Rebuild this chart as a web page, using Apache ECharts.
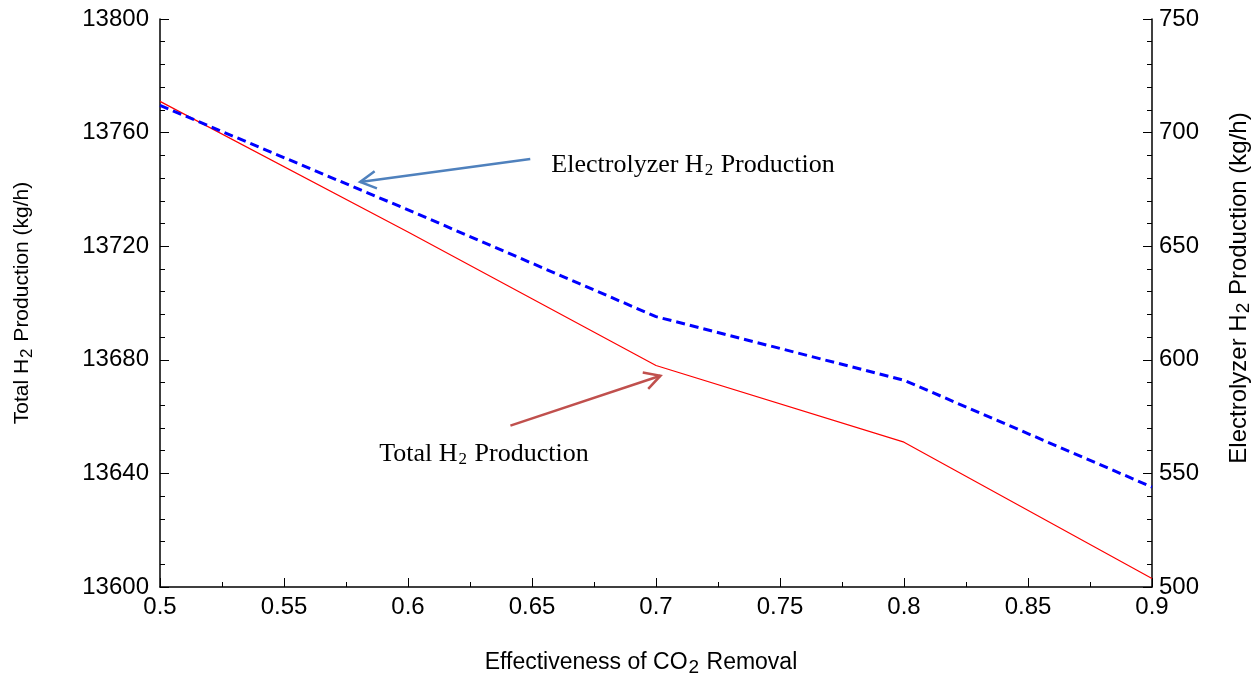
<!DOCTYPE html>
<html>
<head>
<meta charset="utf-8">
<script src="https://cdn.jsdelivr.net/npm/echarts@6/dist/echarts.min.js"></script>
<style>
  html, body { margin: 0; padding: 0; background: #fff; }
  #chart { width: 1258px; height: 681px; }
</style>
</head>
<body>
<div id="chart"></div>
<script>
// effectiveness of CO2 removal
const effectiveness = [0.5, 0.6, 0.7, 0.8, 0.9]
// total H2 production (kg/h), left axis
const totalH2 = [13771, 13725, 13678, 13651, 13603]
// electrolyzer H2 production (kg/h), right axis
const electrolyzerH2 = [712, 666, 619, 591, 544]

// annotation arrows in left-axis data units: [fromX, fromY, toX, toY, textX, textY]
const arrowBlue = [0.6493, 13750.7, 0.5807, 13742.6, 0.6578, 13747]
const arrowRed = [0.6413, 13656.8, 0.7018, 13674.4, 0.5884, 13645.4]

const tickFont = 'Liberation Sans'
const serif = 'Liberation Serif'

// rich styles for text with a subscript "2" (drop = px pushed down)
function subRich(size, subSize, family, drop) {
  const lh = size + 8
  return {
    a: { fontFamily: family, fontSize: size, color: '#000', lineHeight: lh, verticalAlign: 'top' },
    s: {
      fontFamily: family, fontSize: subSize, color: '#000', lineHeight: lh, verticalAlign: 'top',
      padding: [drop + (size - subSize) / 2, 1, 0, 1]
    }
  }
}

function toPts(arr) {
  return effectiveness.map((x, i) => [x, arr[i]])
}

const axisCommon = {
  axisLine: { show: true, lineStyle: { color: '#000', width: 1.5 } },
  axisTick: { show: true, inside: true, length: 9, lineStyle: { color: '#000', width: 1 } },
  minorTick: { show: true, length: 5, lineStyle: { color: '#000', width: 1 } },
  splitLine: { show: false },
  axisLabel: { fontFamily: tickFont, fontSize: 24, color: '#000' }
}

const chart = echarts.init(document.getElementById('chart'))

chart.setOption({
  animation: false,
  backgroundColor: '#fff',
  grid: { left: 160, right: 106, top: 19, bottom: 94, outerBoundsMode: 'none' },
  xAxis: {
    type: 'value',
    min: 0.5,
    max: 0.9,
    interval: 0.05,
    name: '{a|Effectiveness of CO}{s|2}{a| Removal}',
    nameLocation: 'middle',
    nameGap: 64,
    nameTextStyle: { rich: subRich(23, 19, tickFont, 5), padding: [0, 30, 0, 0] },
    ...axisCommon,
    minorTick: { ...axisCommon.minorTick, splitNumber: 2 },
    axisLabel: { ...axisCommon.axisLabel, margin: 8, formatter: v => +v.toFixed(2) + '' }
  },
  yAxis: [{
    type: 'value',
    position: 'left',
    min: 13600,
    max: 13800,
    interval: 40,
    name: '{a|Total H}{s|2}{a| Production (kg/h)}',
    nameLocation: 'middle',
    nameRotate: 90,
    nameGap: 119,
    nameTextStyle: { rich: subRich(21, 17, tickFont, 5) },
    ...axisCommon,
    minorTick: { ...axisCommon.minorTick, splitNumber: 5 },
    axisLabel: { ...axisCommon.axisLabel, margin: 11, formatter: v => String(v) }
  }, {
    type: 'value',
    position: 'right',
    min: 500,
    max: 750,
    interval: 50,
    name: '{a|Electrolyzer H}{s|2}{a| Production (kg/h)}',
    nameLocation: 'middle',
    nameRotate: 90,
    nameGap: 75,
    nameTextStyle: { rich: subRich(24, 19, tickFont, 5), padding: [0, 0, 0, 30] },
    ...axisCommon,
    minorTick: { ...axisCommon.minorTick, splitNumber: 5 },
    axisLabel: { ...axisCommon.axisLabel, margin: 7, formatter: v => String(v) }
  }],
  series: [{
    name: 'Total H2 Production',
    type: 'line',
    yAxisIndex: 0,
    data: toPts(totalH2),
    showSymbol: false,
    lineStyle: { color: '#ff0000', width: 1.2 },
    z: 3
  }, {
    name: 'Electrolyzer H2 Production',
    type: 'line',
    yAxisIndex: 1,
    data: toPts(electrolyzerH2),
    showSymbol: false,
    lineStyle: { color: '#0000ff', width: 3, type: [9, 5] },
    z: 4
  }, {
    name: 'notes',
    type: 'custom',
    yAxisIndex: 0,
    silent: true,
    clip: false,
    data: [
      arrowBlue.concat([0]),
      arrowRed.concat([1])
    ],
    renderItem: function (params, api) {
      const p1 = api.coord([api.value(0), api.value(1)])
      const p2 = api.coord([api.value(2), api.value(3)])
      const pt = api.coord([api.value(4), api.value(5)])
      const which = api.value(6)
      const color = which === 0 ? '#4f81bd' : '#c0504d'
      const text = which === 0
        ? '{a|Electrolyzer H}{s|2}{a| Production}'
        : '{a|Total H}{s|2}{a| Production}'
      const ang = Math.atan2(p2[1] - p1[1], p2[0] - p1[0])
      const L = 18
      const a = 0.5
      const h1 = [p2[0] - L * Math.cos(ang - a), p2[1] - L * Math.sin(ang - a)]
      const h2 = [p2[0] - L * Math.cos(ang + a), p2[1] - L * Math.sin(ang + a)]
      return {
        type: 'group',
        children: [{
          type: 'line',
          shape: { x1: p1[0], y1: p1[1], x2: p2[0], y2: p2[1] },
          style: { stroke: color, lineWidth: 2.5 }
        }, {
          type: 'polyline',
          shape: { points: [h1, p2, h2] },
          style: { stroke: color, lineWidth: 2.5, fill: null }
        }, {
          type: 'text',
          x: pt[0],
          y: pt[1],
          style: {
            text: text,
            rich: subRich(26, 17, serif, 5),
            align: 'left',
            verticalAlign: 'middle'
          }
        }]
      }
    }
  }]
})
</script>
</body>
</html>
